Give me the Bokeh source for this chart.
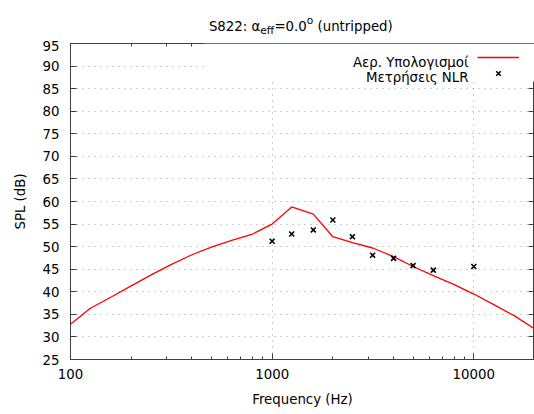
from bokeh.plotting import figure
from bokeh.layouts import column
from bokeh.models import (LogAxis, LinearAxis, LogTicker, SingleIntervalTicker,
                          Label, Legend, LegendItem, BoxAnnotation, Range1d,
                          PrintfTickFormatter)
from bokeh.embed import file_html
from bokeh.resources import INLINE

# ---- data ----
freq_calc = [100, 125, 160, 200, 250, 315, 400, 500, 630, 800, 1000, 1250,
             1600, 2000, 2500, 3150, 4000, 5000, 6300, 8000, 10000, 12500,
             16000, 20000]
spl_calc = [32.8, 36.3, 38.9, 41.3, 43.7, 46.0, 48.2, 49.9, 51.4, 52.8, 55.0,
            58.8, 57.2, 52.2, 50.9, 49.7, 47.8, 45.6, 43.6, 41.6, 39.5, 37.2,
            34.6, 31.8]
freq_meas = [1000, 1250, 1600, 2000, 2500, 3150, 4000, 5000, 6300, 10000]
spl_meas = [51.2, 52.8, 53.7, 55.9, 52.2, 48.1, 47.4, 45.8, 44.8, 45.6]

label_calc = "Αερ. Υπολογισμοί"
label_meas = "Μετρήσεις NLR"
x_label = "Frequency (Hz)"
y_label = "SPL (dB)"
title_parts = ["S822: α", "eff", "=0.0", "o", "(untripped)"]
x_range = (100, 20000)
y_range = (25, 95)

FONT = "DejaVu Sans"
FS = "10pt"
FS_SMALL = "8pt"
AXC = "#404040"
W = 534
TITLE_H = 40

# ---------- title strip (frame aligned with main plot frame) ----------
t = figure(width=W, height=TITLE_H, x_range=Range1d(0, 1),
           y_range=Range1d(0, 1), x_axis_type=None, y_axis_type=None,
           output_backend="svg", toolbar_location=None, min_border=0)
t.outline_line_color = None
t.xgrid.visible = False
t.ygrid.visible = False
# (x start from frame left, baseline from bottom, font size)
title_layout = [(138.4, 14.5, FS), (189.8, 10.5, FS_SMALL), (203.9, 14.5, FS),
                (236.3, 19.6, FS_SMALL), (247.0, 14.5, FS)]
for txt, (xx, yy, fs) in zip(title_parts, title_layout):
    t.add_layout(Label(x=xx, y=yy, x_units="screen", y_units="screen",
                       text=txt, text_align="left", text_baseline="alphabetic",
                       text_font=FONT, text_font_size=fs, text_color="black"))

# ---------- main plot ----------
p = figure(width=W, height=414 - TITLE_H, x_axis_type="log",
           x_range=Range1d(*x_range), y_range=Range1d(*y_range),
           output_backend="svg", toolbar_location=None,
           min_border_left=70, min_border_right=0, min_border_top=3,
           min_border_bottom=55, x_axis_label=x_label, y_axis_label=y_label)
p.background_fill_color = "white"
p.border_fill_color = "white"
p.outline_line_color = AXC
p.outline_line_width = 1

# bottom axis
xa = p.xaxis[0]
xa.ticker = LogTicker(num_minor_ticks=10)
xa.formatter = PrintfTickFormatter(format="%d")
xa.major_tick_in = 6
xa.major_tick_out = 0
xa.minor_tick_in = 3
xa.minor_tick_out = 0
xa.major_label_standoff = 9
xa.axis_label_standoff = 10
xa.major_label_text_font = FONT
xa.major_label_text_font_size = FS
xa.major_label_text_color = "black"
xa.axis_label_text_font = FONT
xa.axis_label_text_font_size = FS
xa.axis_label_text_font_style = "normal"
xa.axis_label_text_color = "black"
xa.axis_line_color = AXC
xa.major_tick_line_color = AXC
xa.minor_tick_line_color = AXC

# left axis
ya = p.yaxis[0]
ya.ticker = SingleIntervalTicker(interval=5, num_minor_ticks=0)
ya.major_tick_in = 6
ya.major_tick_out = 0
ya.minor_tick_in = 0
ya.minor_tick_out = 0
ya.major_label_standoff = 11
ya.axis_label_standoff = 12
ya.major_label_text_font = FONT
ya.major_label_text_font_size = FS
ya.major_label_text_color = "black"
ya.axis_label_text_font = FONT
ya.axis_label_text_font_size = FS
ya.axis_label_text_font_style = "normal"
ya.axis_label_text_color = "black"
ya.axis_line_color = AXC
ya.major_tick_line_color = AXC

# mirrored axes (ticks only)
top = LogAxis(ticker=LogTicker(num_minor_ticks=10), major_tick_in=6,
              major_tick_out=0, minor_tick_in=3, minor_tick_out=0,
              major_label_text_font_size="1px", major_label_text_alpha=0,
              major_label_standoff=0,
              axis_line_color=AXC, major_tick_line_color=AXC,
              minor_tick_line_color=AXC)
p.add_layout(top, "above")
right = LinearAxis(ticker=SingleIntervalTicker(interval=5, num_minor_ticks=0),
                   major_tick_in=6, major_tick_out=0, minor_tick_in=0,
                   minor_tick_out=0, major_label_text_font_size="1px",
                   major_label_text_alpha=0,
                   major_label_standoff=0, axis_line_color=AXC,
                   major_tick_line_color=AXC)
p.add_layout(right, "right")

# grid
p.xgrid.ticker = LogTicker()
p.xgrid.grid_line_color = "#a0a0a0"
p.xgrid.grid_line_dash = "1 5"
p.ygrid.ticker = SingleIntervalTicker(interval=5)
p.ygrid.grid_line_color = "#a0a0a0"
p.ygrid.grid_line_dash = "1 5"

# data
r_line = p.line(freq_calc, spl_calc, line_color="#ff0000", line_width=1.3)
r_meas = p.scatter(freq_meas, spl_meas, marker="x", size=7,
                   line_color="black", line_width=1.6)

# legend background (covers grid like gnuplot key)
key_box = BoxAnnotation(left=460, right=20000, top=95, bottom=86.6,
                        fill_color="white", fill_alpha=1.0, line_alpha=0)
p.add_layout(key_box)

# legend texts (right aligned, gnuplot style)
for txt, off in [(label_calc, -18.7), (label_meas, -34.3)]:
    p.add_layout(Label(x=398, x_units="screen", y=95, y_units="data",
                       y_offset=off, text=txt, text_align="right",
                       text_baseline="alphabetic", text_font=FONT,
                       text_font_size=FS, text_color="black"))

leg = Legend(items=[LegendItem(label=" ", renderers=[r_line]),
                    LegendItem(label=" ", renderers=[r_meas])],
             location=(407, 278), glyph_width=42, glyph_height=16,
             label_width=0, label_standoff=0, label_text_font_size="1px",
             padding=0, spacing=0, margin=0, border_line_alpha=0,
             background_fill_alpha=0)
p.add_layout(leg)

open("out.html", "w").write(file_html(column(t, p, spacing=0), INLINE))
